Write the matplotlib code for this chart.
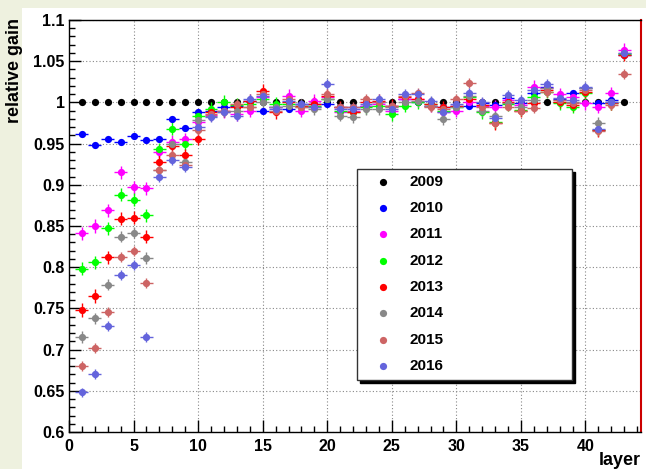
import matplotlib.pyplot as plt
import numpy as np
from matplotlib.patches import Rectangle

# relative gain per layer, one list per data-taking year
layers = np.arange(1, 44)

gain_2009 = [1.000, 1.000, 1.000, 1.000, 1.000, 1.000, 1.000, 1.000, 1.000, 1.000,
             1.000, 1.000, 1.000, 1.000, 1.000, 1.000, 1.000, 1.000, 1.000, 1.000,
             1.000, 1.000, 1.000, 1.000, 1.000, 1.000, 1.000, 1.000, 1.000, 1.000,
             1.000, 1.000, 1.000, 1.000, 1.000, 1.000, 1.000, 1.000, 1.000, 1.000,
             1.000, 1.000, 1.000]
gain_2010 = [0.962, 0.948, 0.955, 0.952, 0.959, 0.954, 0.955, 0.980, 0.969, 0.988,
             0.990, 0.995, 0.996, 1.002, 0.990, 0.994, 0.992, 0.998, 0.998, 0.998,
             0.994, 0.994, 0.996, 1.000, 0.996, 1.004, 1.000, 0.996, 0.994, 0.996,
             0.996, 0.999, 0.997, 1.005, 0.999, 1.011, 1.019, 1.004, 1.011, 1.017,
             0.999, 1.003, 1.058]
gain_2011 = [0.841, 0.850, 0.869, 0.915, 0.897, 0.896, 0.940, 0.952, 0.955, 0.976,
             0.985, 0.989, 0.986, 0.990, 1.006, 0.994, 1.008, 0.990, 1.002, 1.006,
             0.988, 0.990, 0.996, 0.998, 0.990, 1.004, 1.004, 0.996, 0.988, 0.990,
             1.000, 0.996, 0.995, 1.003, 0.997, 1.019, 1.017, 1.010, 1.007, 0.999,
             0.995, 1.011, 1.064]
gain_2012 = [0.798, 0.806, 0.847, 0.888, 0.882, 0.863, 0.943, 0.968, 0.950, 0.984,
             0.992, 1.001, 0.997, 0.998, 1.004, 0.998, 0.998, 0.996, 0.996, 1.004,
             0.990, 0.988, 0.994, 0.996, 0.986, 0.996, 1.000, 0.998, 0.990, 0.994,
             1.006, 0.988, 0.976, 0.998, 0.991, 1.007, 1.013, 0.999, 0.995, 1.011,
             0.967, 0.999, 1.059]
gain_2013 = [0.748, 0.765, 0.812, 0.859, 0.860, 0.837, 0.928, 0.947, 0.936, 0.956,
             0.988, 0.990, 0.994, 1.002, 1.014, 0.988, 1.000, 0.996, 0.998, 1.008,
             0.994, 0.988, 1.000, 1.002, 0.996, 1.006, 1.004, 0.998, 0.994, 0.996,
             1.004, 0.997, 0.975, 1.001, 0.990, 0.999, 1.015, 1.001, 0.997, 1.013,
             0.966, 0.999, 1.058]
gain_2014 = [0.715, 0.738, 0.779, 0.837, 0.842, 0.811, 0.918, 0.950, 0.928, 0.979,
             0.984, 0.990, 0.990, 0.994, 1.000, 0.994, 0.996, 0.994, 0.992, 1.004,
             0.984, 0.982, 0.992, 0.992, 0.994, 1.000, 1.002, 0.996, 0.980, 0.994,
             1.008, 0.989, 0.983, 0.999, 0.995, 1.003, 1.017, 1.003, 1.001, 1.017,
             0.975, 1.001, 1.060]
gain_2015 = [0.680, 0.702, 0.746, 0.812, 0.820, 0.781, 0.918, 0.936, 0.924, 0.967,
             0.986, 0.988, 0.998, 0.994, 1.010, 0.990, 1.004, 0.994, 0.994, 1.010,
             0.994, 0.994, 1.004, 1.000, 0.996, 1.008, 1.012, 0.994, 0.992, 1.004,
             1.024, 0.995, 0.975, 0.995, 0.989, 0.993, 1.013, 1.003, 0.999, 1.015,
             0.965, 0.997, 1.035]
gain_2016 = [0.648, 0.670, 0.729, 0.790, 0.803, 0.715, 0.910, 0.930, 0.921, 0.970,
             0.982, 0.988, 0.983, 1.004, 1.008, 0.992, 1.002, 0.998, 0.994, 1.022,
             0.992, 0.992, 0.998, 1.004, 0.992, 1.010, 1.010, 1.002, 0.988, 0.998,
             1.012, 1.001, 0.981, 1.009, 1.003, 1.015, 1.022, 1.005, 1.003, 1.019,
             0.968, 1.001, 1.060]

years = ['2009', '2010', '2011', '2012', '2013', '2014', '2015', '2016']
gains = [gain_2009, gain_2010, gain_2011, gain_2012, gain_2013, gain_2014, gain_2015, gain_2016]
gain_err = [0.0, 0.003, 0.008, 0.008, 0.008, 0.007, 0.006, 0.006]
colors = ['black', '#0000ff', '#ff00ff', '#00ff00', '#ff0000', '#888888', '#cd6464', '#6464dc']

y_ticks = [0.6, 0.65, 0.7, 0.75, 0.8, 0.85, 0.9, 0.95, 1.0, 1.05, 1.1]
y_labels = ['0.6', '0.65', '0.7', '0.75', '0.8', '0.85', '0.9', '0.95', '1', '1.05', '1.1']

plt.rcParams['font.family'] = ['Liberation Sans', 'DejaVu Sans']
plt.rcParams['font.weight'] = 'bold'

W, H = 646, 469
fig = plt.figure(figsize=(W / 100, H / 100), dpi=100, facecolor='#eef1df')
fig.patches.append(Rectangle((22 / W, 0), 1, 461 / H, transform=fig.transFigure,
                             facecolor='white', edgecolor='none', zorder=-1))

ax = fig.add_axes([69 / W, 37 / H, 572 / W, 412 / H])
ax.set_zorder(2)

for yr, g, e, c in zip(years, gains, gain_err, colors):
    if e == 0:
        ax.plot(layers, g, 'o', ms=5.2, color=c, mew=0, zorder=3)
    else:
        ax.errorbar(layers, g, xerr=0.5, yerr=e, fmt='o', ms=5.2, color=c, ecolor=c,
                    elinewidth=1, capsize=1.5, capthick=1, mew=0, zorder=3)

ax.set_xlim(0, 44.3)
ax.set_ylim(0.6, 1.1)
ax.set_xticks(np.arange(0, 45, 5))
ax.set_xticks(np.arange(0, 45, 1), minor=True)
ax.set_yticks(y_ticks)
ax.set_yticklabels(y_labels)
ax.set_yticks(np.arange(0.6, 1.1001, 0.01), minor=True)

ax.tick_params(which='both', direction='in', top=False, right=False, width=1)
ax.tick_params(which='major', length=8.6, labelsize=11.5, pad=3)
ax.tick_params(axis='x', which='major', pad=5)
ax.tick_params(which='minor', length=4.3)
ax.grid(True, which='major', ls=(0, (1, 2)), color='#888888', lw=0.8)

for s in ['left', 'bottom', 'top']:
    ax.spines[s].set_linewidth(1)
ax.spines['right'].set_color('#cc0000')
ax.spines['right'].set_linewidth(1.5)

fig.text(15 / W, (H - 18) / H, 'relative gain', rotation=90, ha='center', va='top',
         fontsize=13, fontweight='bold', zorder=3)
fig.text(641 / W, (H - 460) / H, 'layer', ha='right', va='center', fontsize=13,
         fontweight='bold', zorder=3)

# legend box with drop shadow
bx0, bx1 = (357 - 69) / 572, (572 - 69) / 572
by0, by1 = (432 - 380) / 412, (432 - 169) / 412
ax.add_patch(Rectangle((bx0 + 3 / 572, by0 - 3 / 412), bx1 - bx0, by1 - by0,
                       transform=ax.transAxes, facecolor='black', edgecolor='black',
                       zorder=5))
ax.add_patch(Rectangle((bx0, by0), bx1 - bx0, by1 - by0, transform=ax.transAxes,
                       facecolor='white', edgecolor='#333333', lw=1, zorder=6))
for i, (yr, c) in enumerate(zip(years, colors)):
    ypos = (432 - (181.7 + 26.3 * i)) / 412
    ax.plot([(383 - 69) / 572], [ypos], 'o', ms=5.2, color=c, mew=0,
            transform=ax.transAxes, zorder=7, clip_on=False)
    ax.text((410 - 69) / 572, ypos, yr, transform=ax.transAxes, ha='left', va='center',
            fontsize=11, fontweight='bold', zorder=7)

fig.savefig('out.png', dpi=100, facecolor=fig.get_facecolor())
